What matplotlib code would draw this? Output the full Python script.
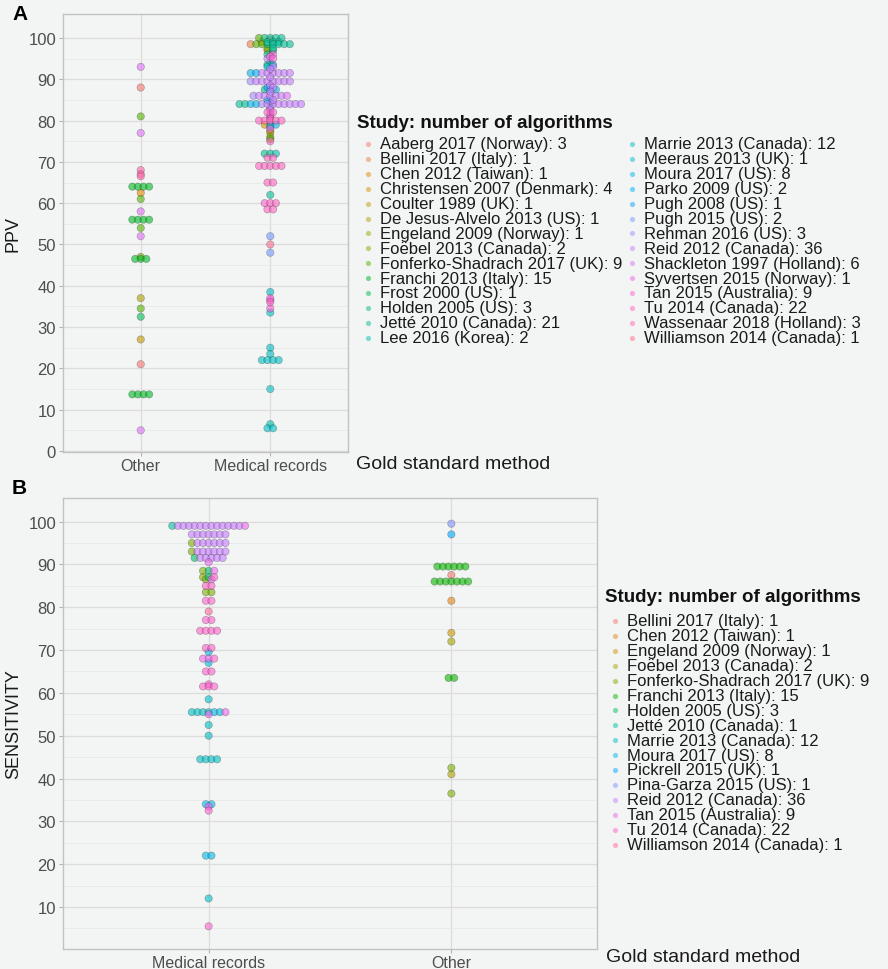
import numpy as np
import matplotlib.pyplot as plt

plt.rcParams['font.family'] = ['Liberation Sans', 'DejaVu Sans']

BG = '#f3f4f4'
W, H = 888, 970

# ---- panel A data (PPV) ----
studies_a = ['Aaberg 2017 (Norway)', 'Bellini 2017 (Italy)', 'Chen 2012 (Taiwan)',
             'Christensen 2007 (Denmark)', 'Coulter 1989 (UK)', 'De Jesus-Alvelo 2013 (US)',
             'Engeland 2009 (Norway)', 'Foëbel 2013 (Canada)', 'Fonferko-Shadrach 2017 (UK)',
             'Franchi 2013 (Italy)', 'Frost 2000 (US)', 'Holden 2005 (US)', 'Jetté 2010 (Canada)',
             'Lee 2016 (Korea)', 'Marrie 2013 (Canada)', 'Meeraus 2013 (UK)', 'Moura 2017 (US)',
             'Parko 2009 (US)', 'Pugh 2008 (US)', 'Pugh 2015 (US)', 'Rehman 2016 (US)',
             'Reid 2012 (Canada)', 'Shackleton 1997 (Holland)', 'Syvertsen 2015 (Norway)',
             'Tan 2015 (Australia)', 'Tu 2014 (Canada)', 'Wassenaar 2018 (Holland)',
             'Williamson 2014 (Canada)']
cats_a = ['Other', 'Medical records']

ppv_other = {
    'Aaberg 2017 (Norway)': [88, 21],
    'Chen 2012 (Taiwan)': [62.5],
    'Coulter 1989 (UK)': [27],
    'De Jesus-Alvelo 2013 (US)': [37],
    'Foëbel 2013 (Canada)': [47],
    'Fonferko-Shadrach 2017 (UK)': [81, 61, 54, 34.5],
    'Franchi 2013 (Italy)': [64, 64, 64, 64, 56, 56, 56, 56, 46.5, 46.5, 46.5,
                             13.7, 13.7, 13.7, 13.7],
    'Frost 2000 (US)': [32.5],
    'Shackleton 1997 (Holland)': [93, 77, 58, 52, 5],
    'Wassenaar 2018 (Holland)': [68, 67, 66.5],
}
ppv_medical = {
    'Aaberg 2017 (Norway)': [99.5],
    'Bellini 2017 (Italy)': [98.5],
    'Christensen 2007 (Denmark)': [99, 97, 79, 77.5],
    'Engeland 2009 (Norway)': [77],
    'Foëbel 2013 (Canada)': [76],
    'Fonferko-Shadrach 2017 (UK)': [100, 98.5, 98.5, 97.5, 75.5],
    'Holden 2005 (US)': [100, 98.5, 97],
    'Jetté 2010 (Canada)': [100, 100, 100, 99, 99, 99, 98.5, 98.5, 98.5, 98.5, 97.5,
                            96, 94, 72, 72, 62, 87.5, 84, 84, 79, 93.5],
    'Lee 2016 (Korea)': [72, 6.5],
    'Marrie 2013 (Canada)': [38.5, 33.5, 25, 23.5, 22, 22, 22, 22, 15, 5.5, 5.5, 93],
    'Meeraus 2013 (UK)': [87.5],
    'Moura 2017 (US)': [93.5, 91.5, 87.5, 84.5, 84, 84, 79, 78.5],
    'Parko 2009 (US)': [91.5, 85],
    'Pugh 2008 (US)': [88],
    'Pugh 2015 (US)': [52, 48],
    'Rehman 2016 (US)': [89.5, 86, 84],
    'Reid 2012 (Canada)': [91.5] * 6 + [89.5] * 7 + [86] * 5 + [84] * 7 +
                          [95, 93, 92.5, 90.5, 88.5, 88, 87, 85, 83, 82.5, 81.5],
    'Shackleton 1997 (Holland)': [86],
    'Syvertsen 2015 (Norway)': [36.5],
    'Tan 2015 (Australia)': [96, 95.5, 95, 81, 80.5, 78, 60, 37, 34.5],
    'Tu 2014 (Canada)': [82, 82, 80, 80, 80, 80, 80, 75, 71, 71, 69, 69, 69, 69, 69,
                         65, 65, 60, 60, 58.5, 58.5, 36],
    'Williamson 2014 (Canada)': [50],
}

# ---- panel B data (sensitivity) ----
studies_b = ['Bellini 2017 (Italy)', 'Chen 2012 (Taiwan)', 'Engeland 2009 (Norway)',
             'Foëbel 2013 (Canada)', 'Fonferko-Shadrach 2017 (UK)', 'Franchi 2013 (Italy)',
             'Holden 2005 (US)', 'Jetté 2010 (Canada)', 'Marrie 2013 (Canada)',
             'Moura 2017 (US)', 'Pickrell 2015 (UK)', 'Pina-Garza 2015 (US)',
             'Reid 2012 (Canada)', 'Tan 2015 (Australia)', 'Tu 2014 (Canada)',
             'Williamson 2014 (Canada)']
cats_b = ['Medical records', 'Other']

sens_medical = {
    'Fonferko-Shadrach 2017 (UK)': [95, 93, 88.5, 87, 86.5, 83.5, 83.5],
    'Holden 2005 (US)': [91.5, 88.5, 87],
    'Jetté 2010 (Canada)': [99],
    'Marrie 2013 (Canada)': [58.5, 55.5, 55.5, 55.5, 55.5, 52.5, 50,
                             44.5, 44.5, 44.5, 44.5, 12],
    'Moura 2017 (US)': [69.5, 67, 55.5, 55.5, 34, 34, 22, 22],
    'Reid 2012 (Canada)': [99] * 12 + [97] * 7 + [95] * 6 + [93] * 6 + [91.5] * 5,
    'Tan 2015 (Australia)': [99, 90.5, 88.5, 86.5, 68, 68, 55.5, 55, 33.5],
    'Tu 2014 (Canada)': [87, 85, 85, 81.5, 81.5, 77, 77, 74.5, 74.5, 74.5, 74.5,
                         70.5, 70.5, 68, 65, 65, 62, 61.5, 61.5, 61.5, 32.5, 5.5],
    'Williamson 2014 (Canada)': [79],
}
sens_other = {
    'Bellini 2017 (Italy)': [87.5],
    'Chen 2012 (Taiwan)': [81.5],
    'Engeland 2009 (Norway)': [74],
    'Foëbel 2013 (Canada)': [72, 41],
    'Fonferko-Shadrach 2017 (UK)': [42.5, 36.5],
    'Franchi 2013 (Italy)': [89.5] * 6 + [86] * 7 + [63.5, 63.5],
    'Pickrell 2015 (UK)': [97],
    'Pina-Garza 2015 (US)': [99.5],
}


def hue_pal(n, c=100.0, l=65.0):
    """ggplot2 default discrete palette (HCL hues 15..375)."""
    h = np.deg2rad(np.linspace(15, 375, n + 1)[:-1])
    u_, v_ = c * np.cos(h), c * np.sin(h)
    xn, yn, zn = 95.047, 100.0, 108.883
    un = 4 * xn / (xn + 15 * yn + 3 * zn)
    vn = 9 * yn / (xn + 15 * yn + 3 * zn)
    Y = yn * ((l + 16) / 116) ** 3
    u = u_ / (13 * l) + un
    v = v_ / (13 * l) + vn
    X = 9.0 * Y * u / (4 * v)
    Z = -X / 3 - 5 * Y + 3 * Y / v
    X, Y, Z = X / 100, Y / 100, Z / 100
    r = 3.240479 * X - 1.537150 * Y - 0.498535 * Z
    g = -0.969256 * X + 1.875992 * Y + 0.041556 * Z
    b = 0.055648 * X - 0.204043 * Y + 1.057311 * Z
    rgb = np.stack([r, g, b], axis=1)
    rgb = np.where(rgb <= 0.0031308, 12.92 * rgb, 1.055 * np.abs(rgb) ** (1 / 2.4) - 0.055)
    return np.clip(rgb, 0, 1)


def dot_offsets(vals, step):
    vals = np.asarray(vals, dtype=float)
    offs = np.zeros(len(vals))
    for v in np.unique(vals):
        idx = np.where(vals == v)[0]
        offs[idx] = (np.arange(len(idx)) - (len(idx) - 1) / 2) * step
    return offs


def px_box(l, t, r, b):
    return [l / W, 1 - b / H, (r - l) / W, (b - t) / H]


def draw_panel(ax, columns, studies, colors, width_px, ylim, yticks, ylabel, label_x):
    step = 5.6 / (width_px / 2.2)
    for xi, col in enumerate(columns, start=1):
        vals, cols = [], []
        for s, c in zip(studies, colors):
            for v in col.get(s, []):
                vals.append(v)
                cols.append((*c, 0.6))
        x = xi + dot_offsets(vals, step)
        ax.scatter(x, vals, s=28, c=cols, edgecolors=(0.1, 0.1, 0.1, 0.3),
                   linewidths=0.5, zorder=3)
    ax.set_facecolor(BG)
    ax.set_xlim(0.4, 2.6)
    ax.set_ylim(*ylim)
    ax.set_yticks(yticks)
    ax.set_yticks(np.arange(5, 105, 10), minor=True)
    ax.set_xticks([1, 2])
    ax.grid(True, which='major', color='#dcdcdc', lw=0.9, zorder=0)
    ax.grid(True, which='minor', axis='y', color='#e6e6e6', lw=0.5, zorder=0)
    for sp in ax.spines.values():
        sp.set_color('#c2c2c2')
        sp.set_linewidth(1.0)
    ax.tick_params(which='major', length=3, color='#b3b3b3', labelcolor='#4d4d4d',
                   labelsize=12, pad=2)
    ax.tick_params(which='minor', length=0)
    ax.tick_params(axis='x', labelsize=11.5, pad=1)
    ax.set_ylabel(ylabel, fontsize=13, color='#1a1a1a')
    ax.yaxis.set_label_coords(label_x, 0.5)
    ax.set_axisbelow(True)


fig = plt.figure(figsize=(W / 100, H / 100), dpi=100, facecolor=BG)

cols_a = hue_pal(len(studies_a))
cols_b = hue_pal(len(studies_b))

ax_a = fig.add_axes(px_box(63, 15, 348, 453))
draw_panel(ax_a, [ppv_other, ppv_medical], studies_a, cols_a, 285,
           (-0.25, 105.8), np.arange(0, 101, 10), 'PPV', -0.145)
ax_a.set_xticklabels(cats_a)

ax_b = fig.add_axes(px_box(63, 499, 597, 950))
draw_panel(ax_b, [sens_medical, sens_other], studies_b, cols_b, 534,
           (0.2, 105.5), np.arange(10, 101, 10), 'SENSITIVITY', -0.076)
ax_b.set_xticklabels(cats_b)

# overlay in pixel coordinates for legends and free text
lax = fig.add_axes([0, 0, 1, 1])
lax.set_xlim(0, W)
lax.set_ylim(H, 0)
lax.axis('off')
lax.patch.set_visible(False)

lax.text(12, 14, 'A', fontsize=15, fontweight='bold', va='center', ha='left')
lax.text(12, 489, 'B', fontsize=15, fontweight='bold', va='center', ha='left')
lax.text(356, 465, 'Gold standard method', fontsize=14, color='#1a1a1a', va='center')
lax.text(606, 958, 'Gold standard method', fontsize=14, color='#1a1a1a', va='center')


def draw_legend(x0, y0, studies, colors, other, medical, col_x, rows, gap, dy):
    lax.text(x0, y0, 'Study: number of algorithms', fontsize=13.5, fontweight='bold',
             va='center', ha='left', color='#111111')
    for i, (s, c) in enumerate(zip(studies, colors)):
        cx = col_x[i // rows]
        y = y0 + gap + (i % rows) * dy
        n = len(other.get(s, [])) + len(medical.get(s, []))
        lax.scatter([cx], [y], s=14, color=(*c, 0.5), linewidths=0)
        lax.text(cx + 12, y, f'{s}: {n}', fontsize=12, va='center', ha='left',
                 color='#1a1a1a')


draw_legend(357, 124, studies_a, cols_a, ppv_other, ppv_medical, [368, 632], 14, 21, 14.9)
draw_legend(605, 598, studies_b, cols_b, sens_other, sens_medical, [615], 16, 24, 14.9)

fig.savefig('out.png', dpi=100, facecolor=BG)
